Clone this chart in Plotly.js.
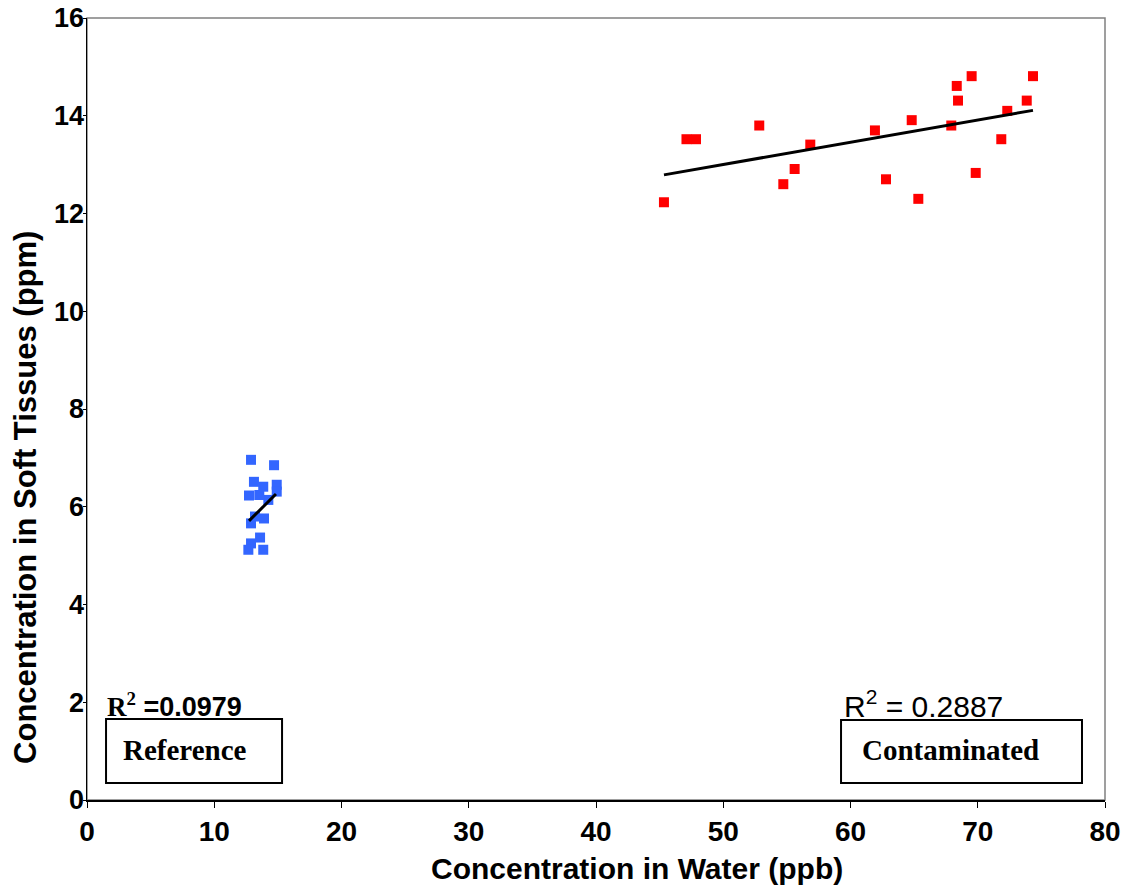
<!DOCTYPE html>
<html>
<head>
<meta charset="utf-8">
<script src="https://cdn.plot.ly/plotly-3.0.1.min.js"></script>
<style>html,body{margin:0;padding:0;background:#fff;}#chart{width:1135px;height:893px;}</style>
</head>
<body>
<div id="chart"></div>
<script>
// Reference site (blue)
const refX = [12.89, 14.70, 13.12, 13.85, 14.91, 12.73, 14.25, 14.91, 13.54, 13.20, 13.91, 12.89, 13.60, 12.89, 12.68, 13.85];
const refY = [6.96, 6.85, 6.51, 6.41, 6.45, 6.23, 6.14, 6.31, 6.24, 5.80, 5.76, 5.66, 5.37, 5.25, 5.12, 5.12];
// Contaminated site (red)
const conX = [45.34, 47.11, 47.86, 52.83, 54.72, 55.61, 56.84, 61.92, 62.79, 64.81, 65.33, 67.92, 68.35, 68.45, 69.52, 69.84, 71.85, 72.32, 73.85, 74.34];
const conY = [12.23, 13.52, 13.52, 13.80, 12.60, 12.91, 13.41, 13.70, 12.70, 13.91, 12.30, 13.80, 14.61, 14.31, 14.81, 12.83, 13.52, 14.10, 14.31, 14.81];
// Linear trend lines (endpoints)
const refTrendX = [12.73, 14.85];
const refTrendY = [5.71, 6.26];
const conTrendX = [45.34, 74.34];
const conTrendY = [12.79, 14.11];

const xTicks = [0, 10, 20, 30, 40, 50, 60, 70, 80];
const yTicks = [0, 2, 4, 6, 8, 10, 12, 14, 16];

const F = 'Arial, "Liberation Sans", sans-serif';
const T = '"Times New Roman", "Liberation Serif", serif';

const traces = [
  {x: refX, y: refY, type: 'scatter', mode: 'markers', marker: {symbol: 'square', size: 10, color: '#3366FF'}, hoverinfo: 'x+y'},
  {x: conX, y: conY, type: 'scatter', mode: 'markers', marker: {symbol: 'square', size: 10, color: '#FF0000'}, hoverinfo: 'x+y'},
  {x: refTrendX, y: refTrendY, type: 'scatter', mode: 'lines', line: {color: '#000', width: 3}},
  {x: conTrendX, y: conTrendY, type: 'scatter', mode: 'lines', line: {color: '#000', width: 3}}
];

const layout = {
  width: 1135, height: 893,
  margin: {l: 87, r: 30, t: 18, b: 93},
  paper_bgcolor: '#fff', plot_bgcolor: '#fff',
  showlegend: false,
  font: {family: F, color: '#000'},
  xaxis: {
    range: [0, 80], tickvals: xTicks, ticktext: xTicks.map(String),
    showgrid: false, zeroline: false, showline: true, linecolor: '#000', linewidth: 1.5,
    ticks: 'outside', ticklen: 6, tickcolor: '#000', tickwidth: 1,
    tickfont: {family: F, size: 28, color: '#000', weight: 'bold'}
  },
  yaxis: {
    range: [0, 16], tickvals: yTicks, ticktext: yTicks.map(String),
    showgrid: false, zeroline: false, showline: true, linecolor: '#000', linewidth: 1.5,
    ticks: 'outside', ticklen: 3, tickcolor: '#000', tickwidth: 1, ticklabelstandoff: -7,
    tickfont: {family: F, size: 27, color: '#000', weight: 'bold'}
  },
  shapes: [
    {type: 'rect', xref: 'paper', yref: 'paper', x0: 0, x1: 1, y0: 0, y1: 1, line: {color: '#808080', width: 1.5}, layer: 'below'},
    {type: 'rect', xref: 'paper', yref: 'paper', x0: 0.0187, x1: 0.1916, y0: 0.0217, y1: 0.1036, line: {color: '#000', width: 2}},
    {type: 'rect', xref: 'paper', yref: 'paper', x0: 0.7407, x1: 0.9774, y0: 0.0217, y1: 0.1023, line: {color: '#000', width: 2}}
  ],
  annotations: [
    {xref: 'paper', yref: 'paper', x: 0.540, y: -0.0882, xanchor: 'center', yanchor: 'middle', showarrow: false,
     text: 'Concentration in Water (ppb)', font: {family: F, size: 30, color: '#000', weight: 'bold'}},
    {xref: 'paper', yref: 'paper', x: -0.060, y: 0.3875, xanchor: 'center', yanchor: 'middle', showarrow: false, textangle: -90,
     text: 'Concentration in Soft Tissues (ppm)', font: {family: F, size: 31, color: '#000', weight: 'bold'}},
    {xref: 'paper', yref: 'paper', x: 0.0963, y: 0.064, xanchor: 'center', yanchor: 'middle', showarrow: false,
     text: '<b>Reference</b>', font: {family: T, size: 29, color: '#000'}},
    {xref: 'paper', yref: 'paper', x: 0.8487, y: 0.064, xanchor: 'center', yanchor: 'middle', showarrow: false,
     text: '<b>Contaminated</b>', font: {family: T, size: 29, color: '#000'}},
    {xref: 'paper', yref: 'paper', x: (105 - 87) / 1018, y: (800 - 705) / 782, xanchor: 'left', yanchor: 'middle', showarrow: false,
     text: '<b><span style="font-family:' + "'Times New Roman', 'Liberation Serif', serif" + '">R<sup>2</sup></span> =0.0979</b>', font: {family: F, size: 27, color: '#000'}},
    {xref: 'paper', yref: 'paper', x: (842 - 87) / 1018, y: (800 - 704) / 782, xanchor: 'left', yanchor: 'middle', showarrow: false,
     text: 'R<sup>2</sup> = 0.2887', font: {family: F, size: 30, color: '#000'}}
  ]
};

Plotly.newPlot('chart', traces, layout, {displayModeBar: false, staticPlot: true});
</script>
</body>
</html>
